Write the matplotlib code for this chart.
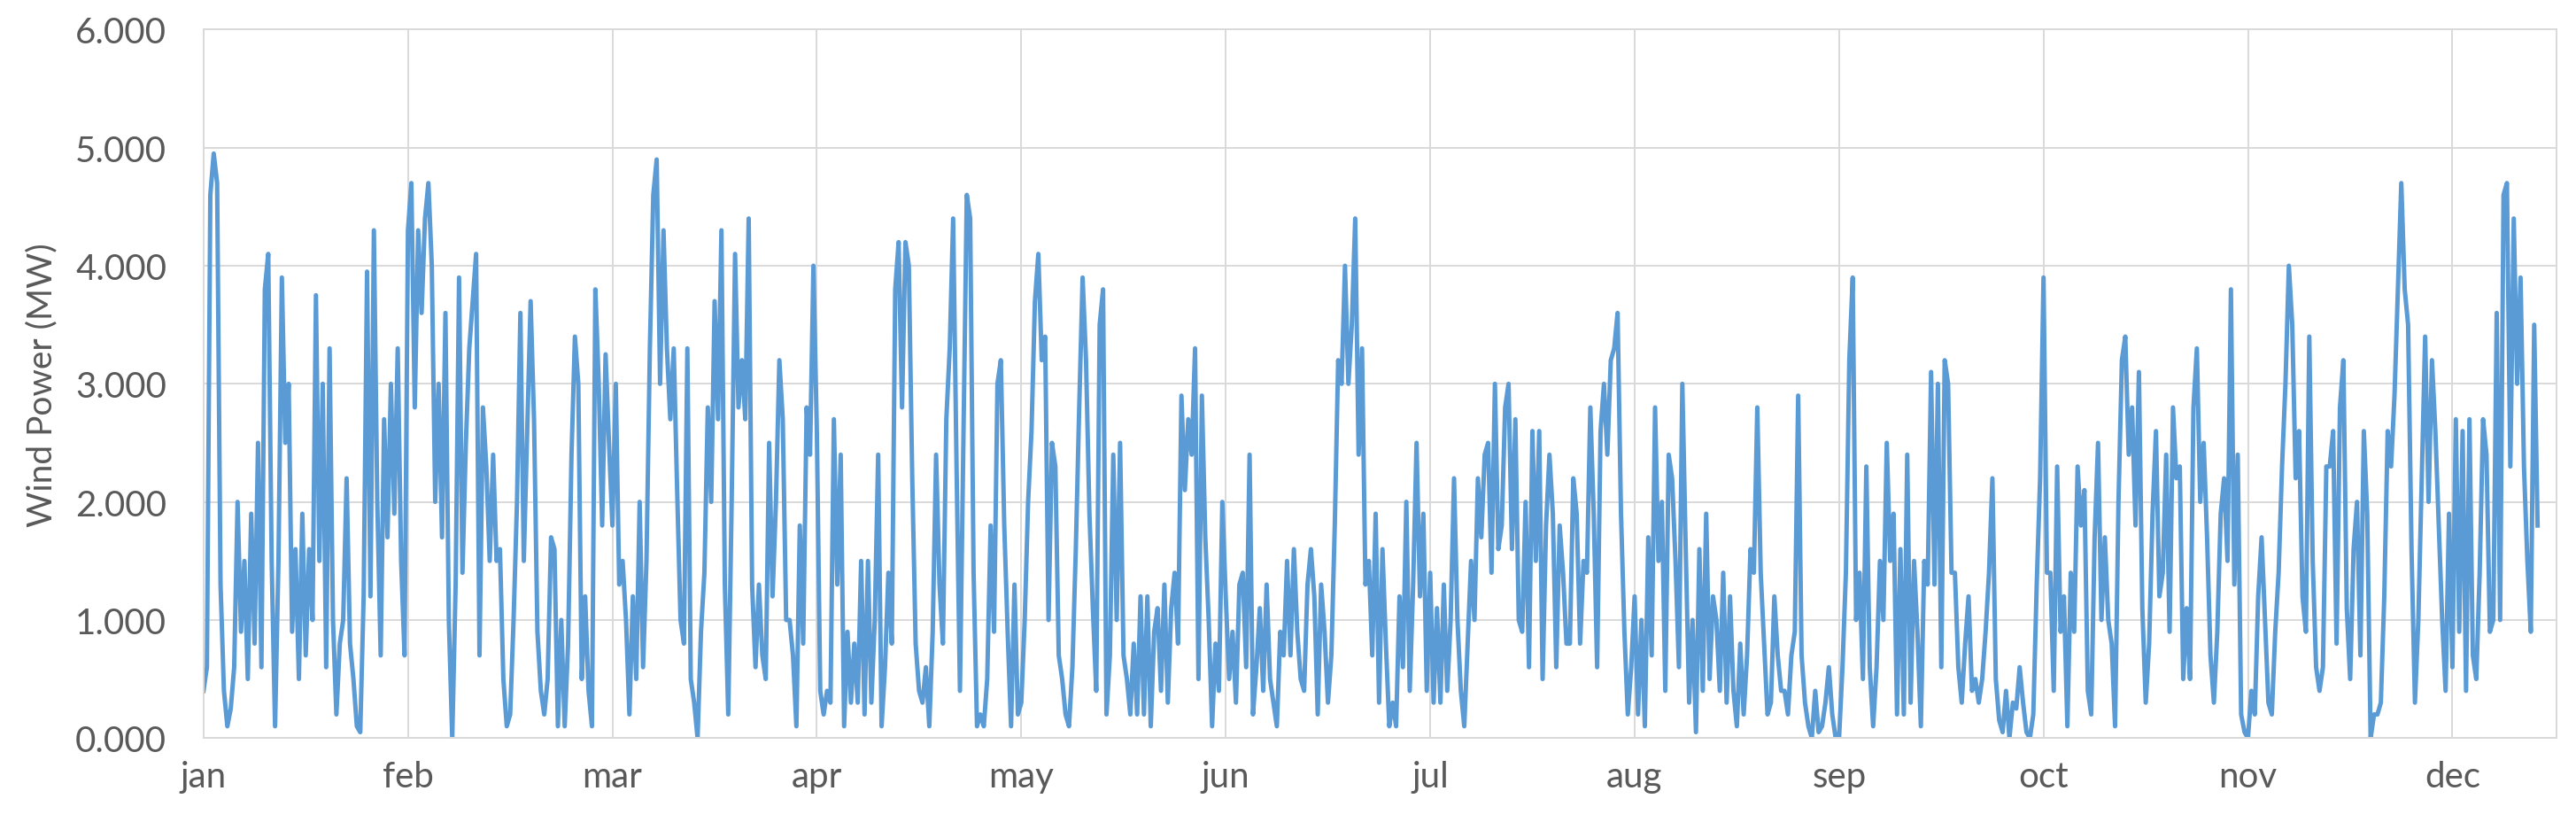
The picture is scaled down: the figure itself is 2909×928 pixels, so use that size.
import numpy as np
import matplotlib
matplotlib.use('Agg')
import matplotlib.pyplot as plt
from matplotlib.ticker import FuncFormatter, MultipleLocator

# Wind power (MW) at ~60 samples per month
month_labels = ['jan', 'feb', 'mar', 'apr', 'may', 'jun',
                'jul', 'aug', 'sep', 'oct', 'nov', 'dec']
samples_per_month = 60

jan = [400, 600, 4600, 4950, 4700, 1300, 400, 100, 250, 600,
       2000, 900, 1500, 500, 1900, 800, 2500, 600, 3800, 4100,
       1500, 100, 1500, 3900, 2500, 3000, 900, 1600, 500, 1900,
       700, 1600, 1000, 3750, 1500, 3000, 600, 3300, 1000, 200,
       800, 1000, 2200, 800, 500, 100, 50, 1200, 3950, 1200,
       4300, 2000, 700, 2700, 1700, 3000, 1900, 3300, 1500, 700]
feb = [4300, 4700, 2800, 4300, 3600, 4400, 4700, 4000, 2000, 3000,
       1700, 3600, 1000, 0, 1300, 3900, 1400, 2500, 3300, 3700,
       4100, 700, 2800, 2300, 1500, 2400, 1500, 1600, 500, 100,
       200, 1000, 2000, 3600, 1500, 2600, 3700, 2700, 900, 400,
       200, 500, 1700, 1600, 100, 1000, 100, 800, 2400, 3400,
       3000, 500, 1200, 400, 100, 3800, 3000, 1800, 3250, 2500]
mar = [1800, 3000, 1300, 1500, 1000, 200, 1200, 500, 2000, 600,
       1500, 3300, 4600, 4900, 3000, 4300, 3300, 2700, 3300, 2100,
       1000, 800, 3300, 500, 300, 0, 900, 1400, 2800, 2000,
       3700, 2700, 4300, 1300, 200, 2000, 4100, 2800, 3200, 2700,
       4400, 1300, 600, 1300, 700, 500, 2500, 1200, 2000, 3200,
       2700, 1000, 1000, 700, 100, 1800, 800, 2800, 2400, 4000]
apr = [2600, 400, 200, 400, 300, 2700, 1300, 2400, 100, 900,
       300, 800, 300, 1500, 200, 1500, 300, 1000, 2400, 100,
       600, 1400, 800, 3800, 4200, 2800, 4200, 4000, 2200, 800,
       400, 300, 600, 100, 900, 2400, 1300, 800, 2700, 3300,
       4400, 2300, 400, 2500, 4600, 4400, 1400, 100, 200, 100,
       500, 1800, 900, 3000, 3200, 1800, 900, 100, 1300, 200]
may = [300, 1000, 2000, 2600, 3700, 4100, 3200, 3400, 1000, 2500,
       2300, 700, 500, 200, 100, 600, 1600, 2800, 3900, 3200,
       1900, 1100, 400, 3500, 3800, 200, 700, 2400, 1000, 2500,
       700, 500, 200, 800, 200, 1200, 200, 1200, 100, 900,
       1100, 400, 1300, 300, 1100, 1400, 800, 2900, 2100, 2700,
       2400, 3300, 500, 2900, 1700, 1000, 100, 800, 400, 2000]
jun = [1200, 500, 900, 300, 1300, 1400, 600, 2400, 200, 600,
       1100, 400, 1300, 500, 300, 100, 900, 700, 1500, 700,
       1600, 900, 500, 400, 1300, 1600, 1200, 200, 1300, 900,
       300, 700, 1800, 3200, 3000, 4000, 3000, 3500, 4400, 2400,
       3300, 1300, 1500, 700, 1900, 300, 1600, 800, 100, 300,
       100, 1200, 600, 2000, 400, 1300, 2500, 1200, 1900, 400]
jul = [1400, 300, 1100, 300, 1300, 400, 1000, 2200, 1000, 400,
       100, 800, 1500, 1000, 2200, 1700, 2400, 2500, 1400, 3000,
       1600, 1800, 2800, 3000, 1600, 2700, 1000, 900, 2000, 600,
       2600, 1500, 2600, 500, 1800, 2400, 1900, 600, 1800, 1400,
       800, 800, 2200, 1900, 800, 1500, 1400, 2800, 1900, 600,
       2600, 3000, 2400, 3200, 3300, 3600, 1900, 900, 200, 600]
aug = [1200, 200, 1000, 100, 1700, 700, 2800, 1500, 2000, 400,
       2400, 2200, 1500, 600, 3000, 1600, 300, 1000, 50, 1600,
       400, 1900, 500, 1200, 1000, 400, 1400, 300, 1200, 400,
       100, 800, 200, 700, 1600, 1400, 2800, 1400, 800, 200,
       300, 1200, 700, 400, 400, 200, 700, 900, 2900, 700,
       300, 100, 0, 400, 50, 100, 300, 600, 200, 0]
sep = [0, 600, 1400, 3200, 3900, 1000, 1400, 500, 2300, 600,
       100, 600, 1500, 1000, 2500, 1500, 1900, 200, 1600, 200,
       2400, 300, 1500, 900, 100, 1500, 1300, 3100, 1300, 3000,
       600, 3200, 3000, 1400, 1400, 600, 300, 800, 1200, 400,
       500, 300, 500, 900, 1400, 2200, 500, 150, 50, 400,
       0, 300, 250, 600, 300, 50, 0, 200, 1300, 2200]
oct_ = [3900, 1400, 1400, 400, 2300, 900, 1200, 100, 1400, 900,
        2300, 1800, 2100, 400, 200, 1700, 2500, 1000, 1700, 1000,
        800, 100, 2000, 3200, 3400, 2400, 2800, 1800, 3100, 1100,
        300, 800, 1900, 2600, 1200, 1400, 2400, 900, 2800, 2200,
        2300, 500, 1100, 500, 2800, 3300, 2000, 2500, 1700, 700,
        300, 900, 1900, 2200, 1500, 3800, 1300, 2400, 200, 50]
nov = [0, 400, 200, 1200, 1700, 1000, 300, 200, 900, 1400,
       2300, 3000, 4000, 3500, 2200, 2600, 1200, 900, 3400, 1500,
       600, 400, 600, 2300, 2300, 2600, 800, 2800, 3200, 1100,
       500, 1600, 2000, 700, 2600, 1900, 0, 200, 200, 300,
       1200, 2600, 2300, 2900, 3800, 4700, 3800, 3500, 1600, 300,
       1000, 2200, 3400, 2000, 3200, 2600, 1800, 1000, 400, 1900]
dec = [600, 2700, 900, 2600, 400, 2700, 700, 500, 1400, 2700,
       2400, 900, 1000, 3600, 1000, 4600, 4700, 2300, 4400, 3000,
       3900, 2300, 1500, 900, 3500, 1800]

months = [jan, feb, mar, apr, may, jun, jul, aug, sep, oct_, nov, dec]

x = np.concatenate([m + np.arange(len(v)) / samples_per_month
                    for m, v in enumerate(months)])
y = np.concatenate([np.array(v, dtype=float) for v in months])

plt.rcParams['font.family'] = ['Lato', 'DejaVu Sans']

fig = plt.figure(figsize=(29.09, 9.29), dpi=100)
ax = fig.add_axes([0.079, 0.102, 0.9135, 0.861])

ax.plot(x, y, color='#5B9BD5', linewidth=3.6)

ax.set_xlim(0, 11.51)
ax.set_ylim(0, 6000)
ax.set_xticks(np.arange(12))
ax.set_xticklabels(month_labels)
ax.yaxis.set_major_locator(MultipleLocator(1000))
ax.yaxis.set_major_formatter(FuncFormatter(lambda v, p: f"{v / 1000:.3f}"))

ax.grid(True, color='#D9D9D9', linewidth=1.4)
ax.set_axisbelow(True)
for s in ax.spines.values():
    s.set_color('#D9D9D9')
    s.set_linewidth(1.4)

ax.tick_params(axis='both', length=0, labelsize=29, colors='#595959')
ax.tick_params(axis='y', pad=30)
ax.tick_params(axis='x', pad=18)
ax.set_ylabel('Wind Power (MW)', fontsize=28, color='#595959', labelpad=14)

plt.savefig('out.png', dpi=100)
plt.close()
